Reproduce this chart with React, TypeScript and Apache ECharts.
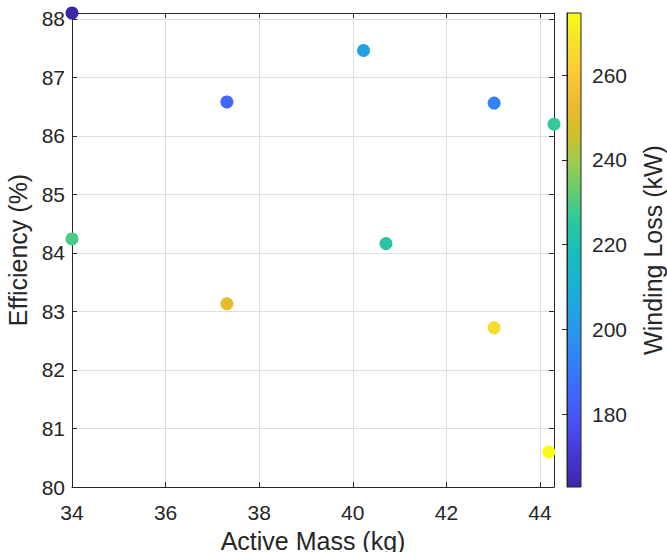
import React, { useEffect, useRef } from "react";
import * as echarts from "echarts";

const activeMass = [34.0, 40.23, 37.31, 43.02, 44.3, 34.0, 40.71, 37.31, 43.02, 44.19];
const efficiency = [88.1, 87.46, 86.58, 86.56, 86.2, 84.24, 84.16, 83.13, 82.72, 80.6];
const windingLoss = [162.8, 203.7, 184.3, 193.0, 226.7, 229.5, 224.5, 251.6, 266.0, 274.7];

const xTicks = { min: 34, max: 44.3, interval: 2 };
const yTicks = { min: 80, max: 88.1, interval: 1 };
const cbRange = { min: 162.8, max: 274.7 };

const parula = [
  "#3E26A8", "#4535D5", "#484DF0", "#4263FD", "#327BFC", "#2C91EF",
  "#20A5E3", "#18B4D0", "#18BFB6", "#2CC89B", "#64CD6F", "#A0CB4F",
  "#D1BF27", "#EFBA30", "#FEC934", "#F5E229", "#F9FB15",
];

const FONT = "Liberation Sans, Arial, Helvetica, sans-serif";
const INK = "#262626";

export default function App() {
  const ref = useRef<HTMLDivElement>(null);
  useEffect(() => {
    document.body.style.margin = "0";
    document.body.style.overflow = "hidden";
    if (!ref.current) return;
    const chart = echarts.init(ref.current, null, { renderer: "svg" });
    const data = activeMass.map((x, i) => [x, efficiency[i], windingLoss[i]]);
    const gridMain = { left: 72, top: 13, width: 482, height: 474 };
    const gridCb = { left: 567, top: 13, width: 14, height: 474 };
    const axisLine = { show: true, lineStyle: { color: INK, width: 1 } };
    const tick = { show: true, inside: true, length: 5, lineStyle: { color: INK } };
    const label = { color: INK, fontSize: 21, fontFamily: FONT };
    const nameStyle = { color: INK, fontSize: 25, fontFamily: FONT };
    const split = { show: true, lineStyle: { color: "#DFDFDF", width: 1 } };

    chart.setOption({
      animation: false,
      backgroundColor: "#ffffff",
      textStyle: { fontFamily: FONT },
      grid: [
        { ...gridMain, containLabel: false, outerBoundsMode: "none" },
        { ...gridCb, containLabel: false, outerBoundsMode: "none" },
      ],
      xAxis: [
        {
          gridIndex: 0, type: "value", position: "bottom",
          min: xTicks.min, max: xTicks.max, interval: xTicks.interval,
          axisLine, axisTick: tick, splitLine: split,
          axisLabel: { ...label, margin: 15, showMaxLabel: false },
          name: "Active Mass (kg)", nameLocation: "middle", nameGap: 41,
          nameTextStyle: nameStyle,
        },
        {
          gridIndex: 0, type: "value", position: "top",
          min: xTicks.min, max: xTicks.max, interval: xTicks.interval,
          axisLine, axisTick: tick, splitLine: { show: false },
          axisLabel: { show: false },
        },
        { gridIndex: 1, type: "value", min: 0, max: 1, show: false },
      ],
      yAxis: [
        {
          gridIndex: 0, type: "value", position: "left",
          min: yTicks.min, max: yTicks.max, interval: yTicks.interval,
          axisLine, axisTick: tick, splitLine: split,
          axisLabel: { ...label, margin: 7, showMaxLabel: false },
          name: "Efficiency (%)", nameLocation: "middle", nameGap: 25,
          nameTextStyle: nameStyle,
        },
        {
          gridIndex: 0, type: "value", position: "right",
          min: yTicks.min, max: yTicks.max, interval: yTicks.interval,
          axisLine, axisTick: tick, splitLine: { show: false },
          axisLabel: { show: false },
        },
        {
          gridIndex: 1, type: "value", position: "right", z: 10,
          min: cbRange.min, max: cbRange.max, splitNumber: 5,
          axisLine, axisTick: tick, splitLine: { show: false },
          axisLabel: { ...label, margin: 11, showMinLabel: false, showMaxLabel: false },
          name: "Winding Loss (kW)", nameLocation: "middle", nameGap: 59,
          nameTextStyle: nameStyle,
        },
      ],
      visualMap: {
        show: false, type: "continuous", dimension: 2, seriesIndex: 0,
        min: cbRange.min, max: cbRange.max,
        inRange: { color: parula },
      },
      graphic: [
        {
          type: "rect", z: -1, silent: true,
          shape: { x: gridCb.left, y: gridCb.top, width: gridCb.width, height: gridCb.height },
          style: {
            fill: new echarts.graphic.LinearGradient(
              0, 1, 0, 0,
              parula.map((c, i) => ({ offset: i / (parula.length - 1), color: c }))
            ),
            stroke: INK, lineWidth: 1,
          },
        },
      ],
      series: [
        {
          type: "scatter", xAxisIndex: 0, yAxisIndex: 0,
          symbolSize: 13, clip: false, data,
          itemStyle: { opacity: 1 },
        },
      ],
    });
    return () => chart.dispose();
  }, []);
  return <div ref={ref} style={{ width: 667, height: 552, overflow: "hidden" }} />;
}
